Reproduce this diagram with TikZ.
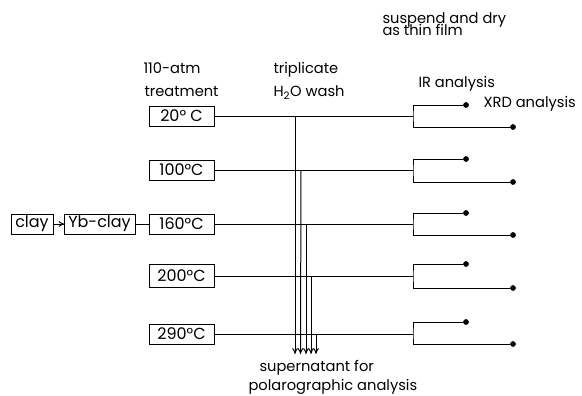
\documentclass[tikz,border=0pt]{standalone}
\usepackage{fontspec}
\setmainfont{Poppins}

\tikzset{every picture/.style={line width=0.75pt}}
\tikzset{tbox/.style={draw, minimum width=48.75pt, minimum height=15pt, inner sep=0.75pt, font=\fontsize{12}{13}\selectfont}}
\tikzset{lbl/.style={anchor=base west, inner sep=0.75pt, font=\fontsize{11}{12}\selectfont}}
\tikzset{enddot/.style={circle, fill, inner sep=0pt, minimum size=4.3pt}}

\begin{document}
\begin{tikzpicture}[x=0.75pt,y=0.75pt,yscale=-1,xscale=1]
\path [use as bounding box] (0,0) rectangle (582,396);

%Boxes
\draw (32,224) node [tbox, minimum width=31.5pt] (clay) {clay};
\draw (99.5,224) node [tbox, minimum width=53.25pt] (yb) {Yb-clay};
\draw (181.5,116) node [tbox] (t20) {20° C};
\draw (181.5,170) node [tbox] (t100) {100°C};
\draw (181.5,224) node [tbox] (t160) {160°C};
\draw (181.5,276) node [tbox, minimum height=17pt] (t200) {200°C};
\draw (181.5,334) node [tbox] (t290) {290°C};

%Straight Lines
\draw (clay) -- (yb);
\draw [shift={(yb.west)}, rotate = 180] [line width=0.75]    (4.5,-2.4) .. controls (3,-1.1) and (1.4,-0.3) .. (0,0) .. controls (1.4,0.3) and (3,1.1) .. (4.5,2.4)   ;
\draw (yb) -- (t160);

% Bracket points
\coordinate (b20) at (413,116);
\coordinate (b100) at (413,170);
\coordinate (b160) at (413,224);
\coordinate (b200) at (413,276);
\coordinate (b290) at (413,334);
% IR and XRD dots
\draw (466,105) node [enddot] (ir20) {};
\draw (513,127) node [enddot] (xrd20) {};
\draw (466,159) node [enddot] (ir100) {};
\draw (513,182) node [enddot] (xrd100) {};
\draw (466,213) node [enddot] (ir160) {};
\draw (513,235) node [enddot] (xrd160) {};
\draw (466,264) node [enddot] (ir200) {};
\draw (513,288) node [enddot] (xrd200) {};
\draw (466,322) node [enddot] (ir290) {};
\draw (513,344) node [enddot] (xrd290) {};

%Straight Lines
\draw (t20) -- (b20);
\draw (ir20) -| (b20) |- (xrd20);
%Straight Lines
\draw (t100) -- (b100);
\draw (ir100) -| (b100) |- (xrd100);
%Straight Lines
\draw (t160) -- (b160);
\draw (ir160) -| (b160) |- (xrd160);
%Straight Lines
\draw (t200) -- (b200);
\draw (ir200) -| (b200) |- (xrd200);
%Straight Lines
\draw (t290) -- (b290);
\draw (ir290) -| (b290) |- (xrd290);

% Wash lines
\coordinate (w1) at (295,116);
\coordinate (w2) at (301,170);
\coordinate (w3) at (306,224);
\coordinate (w4) at (311,276);
\coordinate (w5) at (316,334);
\coordinate (s1) at (295,353);
\coordinate (s2) at (300.5,353);
\coordinate (s3) at (306,353);
\coordinate (s4) at (311,353);
\coordinate (s5) at (316,353);
\draw (w1) -- (s1);
\draw [shift={(s1)}, rotate = 270] [line width=0.75]    (4.5,-2.4) .. controls (3,-1.1) and (1.4,-0.3) .. (0,0) .. controls (1.4,0.3) and (3,1.1) .. (4.5,2.4)   ;
\draw (w2) -- (s2);
\draw [shift={(s2)}, rotate = 270] [line width=0.75]    (4.5,-2.4) .. controls (3,-1.1) and (1.4,-0.3) .. (0,0) .. controls (1.4,0.3) and (3,1.1) .. (4.5,2.4)   ;
\draw (w3) -- (s3);
\draw [shift={(s3)}, rotate = 270] [line width=0.75]    (4.5,-2.4) .. controls (3,-1.1) and (1.4,-0.3) .. (0,0) .. controls (1.4,0.3) and (3,1.1) .. (4.5,2.4)   ;
\draw (w4) -- (s4);
\draw [shift={(s4)}, rotate = 270] [line width=0.75]    (4.5,-2.4) .. controls (3,-1.1) and (1.4,-0.3) .. (0,0) .. controls (1.4,0.3) and (3,1.1) .. (4.5,2.4)   ;
\draw (w5) -- (s5);
\draw [shift={(s5)}, rotate = 270] [line width=0.75]    (4.5,-2.4) .. controls (3,-1.1) and (1.4,-0.3) .. (0,0) .. controls (1.4,0.3) and (3,1.1) .. (4.5,2.4)   ;

% Text Node
\draw (142,73) node [lbl] (atm) {110-atm};
% Text Node
\draw (143,96.5) node [lbl] (treat) {treatment};
% Text Node
\draw (272,73) node [lbl] (trip) {triplicate};
% Text Node
\draw (272,96.5) node [lbl] (wash) {H\textsubscript{2}O wash};
% Text Node
\draw (381,23) node [lbl] (susp) {suspend and dry};
% Text Node
\draw (381,36) node [lbl] (film) {as thin film};
% Text Node
\draw (417,87) node [lbl] (ir) {IR analysis};
% Text Node
\draw (482,107.5) node [lbl] (xrd) {XRD analysis};
% Text Node
\draw (258,371) node [lbl] (super) {supernatant for};
% Text Node
\draw (247,390) node [lbl] (polar) {polarographic analysis};

\end{tikzpicture}
\end{document}
